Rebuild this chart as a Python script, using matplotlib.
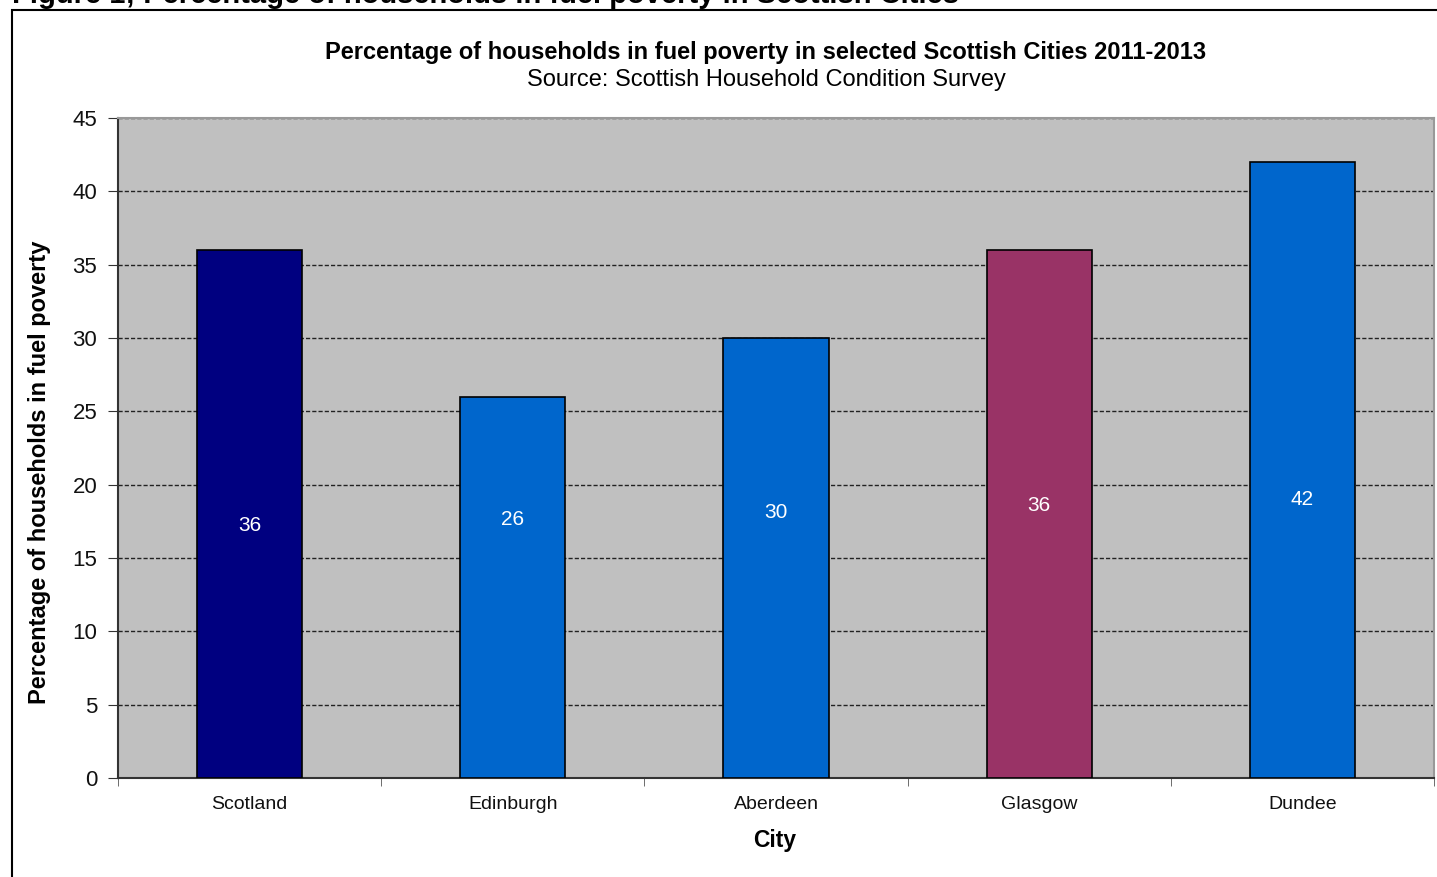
import numpy as np
import matplotlib
matplotlib.use("Agg")
import matplotlib.pyplot as plt
from matplotlib.patches import Rectangle

plt.rcParams["font.family"] = ["Liberation Sans", "DejaVu Sans"]

cities = ["Scotland", "Edinburgh", "Aberdeen", "Glasgow", "Dundee"]
pct_fuel_poverty = [36, 26, 30, 36, 42]
bar_colors = ["#000080", "#0066CC", "#0066CC", "#993366", "#0066CC"]
y_ticks = [0, 5, 10, 15, 20, 25, 30, 35, 40, 45]

W, H, DPI = 1437, 877, 100
fig = plt.figure(figsize=(W / DPI, H / DPI), dpi=DPI)

# plot area in pixel terms
left, right, top, bottom = 118, 1434, 118, 778
ax = fig.add_axes([left / W, 1 - bottom / H, (right - left) / W, (bottom - top) / H])
ax.set_facecolor("#C0C0C0")

x = np.arange(len(cities))
ax.bar(x, pct_fuel_poverty, width=0.4, color=bar_colors,
       edgecolor="black", linewidth=1.2, zorder=3)

# value labels sit around mid-height, drifting slightly upward to the right
for i, v in enumerate(pct_fuel_poverty):
    ax.text(i, 17.2 + 0.45 * i, f"{v}", ha="center", va="center",
            color="white", fontsize=15, zorder=4)

ax.set_xlim(-0.5, len(cities) - 0.5)
ax.set_ylim(0, 45)
ax.set_yticks(y_ticks)
ax.yaxis.grid(True, linestyle=(0, (3, 1.5)), color="#222222", linewidth=1.0, zorder=1)
ax.set_axisbelow(True)

ax.set_xticks(x)
ax.set_xticklabels(cities, fontsize=14, color="#111111")
ax.set_xticks(np.arange(-0.5, len(cities)), minor=True)
ax.tick_params(axis="x", which="major", length=0, pad=13)
ax.tick_params(axis="x", which="minor", length=6, color="#555555", direction="out")
ax.tick_params(axis="y", length=7, color="#333333", direction="out",
               labelsize=16, labelcolor="#111111", pad=8)

for side in ("top", "right"):
    ax.spines[side].set_color("#999999")
    ax.spines[side].set_linewidth(1.5)
ax.spines["left"].set_color("#333333")
ax.spines["bottom"].set_color("#333333")
ax.spines["left"].set_linewidth(1.5)
ax.spines["bottom"].set_linewidth(1.5)

ax.set_xlabel("City", fontsize=16.5, fontweight="bold")
ax.xaxis.set_label_coords(0.499, -(840 - bottom) / (bottom - top))
ax.xaxis.label.set_va("center")
ax.set_ylabel("Percentage of households in fuel poverty", fontsize=17,
              fontweight="bold")
ax.yaxis.set_label_coords(-(left - 40) / (right - left), (bottom - 472) / (bottom - top))
ax.yaxis.label.set_va("center")

fig.text(766 / W, 1 - 52 / H,
         "Percentage of households in fuel poverty in selected Scottish Cities 2011-2013",
         ha="center", va="center", fontsize=17, fontweight="bold")
fig.text(766 / W, 1 - 80 / H, "Source: Scottish Household Condition Survey",
         ha="center", va="center", fontsize=17)

# page heading, mostly cut off by the top edge
fig.text(12 / W, 1 - 3 / H,
         "Figure 1; Percentage of households in fuel poverty in Scottish Cities",
         ha="left", va="baseline", fontsize=21, fontweight="bold")

# chart frame that runs off the right and bottom edges
fig.patches.append(Rectangle((12 / W, -0.1), 1.2, 1.1 - 10 / H, transform=fig.transFigure,
                             fill=False, edgecolor="black", linewidth=1.5))

fig.savefig("out.png", dpi=DPI)
